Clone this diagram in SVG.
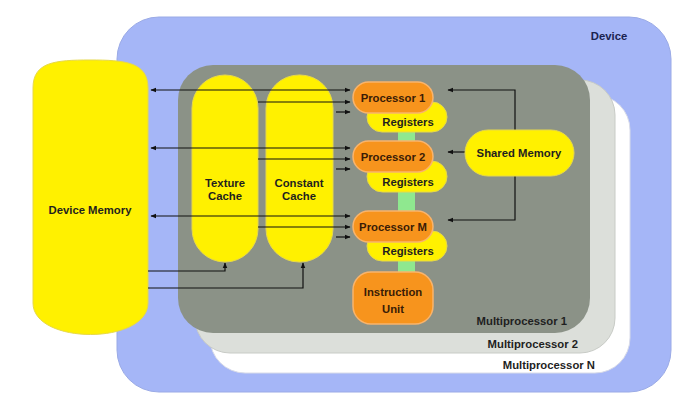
<svg xmlns="http://www.w3.org/2000/svg" width="690" height="416" viewBox="0 0 690 416">
<defs>
<marker id="ah" viewBox="0 0 10 10" refX="9" refY="5" markerWidth="6" markerHeight="6" orient="auto-start-reverse" markerUnits="userSpaceOnUse">
<path d="M0,1 L10,5 L0,9 z" fill="#111"/>
</marker>
<style>
text{font-family:"Liberation Sans",Arial,sans-serif;font-weight:bold;font-size:11.3px;fill:#1f1f1f;text-anchor:middle}
.y{fill:#fff100;stroke:#e6d84a;stroke-width:1}
.o{fill:#f7941d;stroke:#f9b46c;stroke-width:1.5}
.ot{fill:#3a1c06}
.g{fill:#8fe88f}
.c{fill:none;stroke:#111;stroke-width:1.2}
.c2{fill:none;stroke:#111;stroke-width:1.2;marker-end:url(#ah)}
.c3{fill:none;stroke:#111;stroke-width:1.2;marker-start:url(#ah);marker-end:url(#ah)}
.lab{text-anchor:end}
</style>
</defs>
<rect width="690" height="416" fill="#ffffff"/>
<g id="device">
<rect x="117" y="17" width="554" height="375" rx="42" fill="#a5b6f7" stroke="#9aaae6"/>
<text x="609" y="40" fill="#1b2350" style="fill:#1b2350">Device</text>
</g>
<g id="multiprocessorN">
<rect x="210" y="95" width="420" height="278" rx="35" fill="#ffffff" stroke="#d8dbe8"/>
<text class="lab" x="595" y="369">Multiprocessor N</text>
</g>
<g id="multiprocessor2">
<rect x="195" y="80" width="420" height="273" rx="35" fill="#dcdfda" stroke="#c8cbc6"/>
<text class="lab" x="578" y="348">Multiprocessor 2</text>
</g>
<g id="multiprocessor1">
<rect x="178" y="65" width="412" height="268" rx="35" fill="#8b9287"/>
<text class="lab" x="567" y="325">Multiprocessor 1</text>
</g>
<g id="device-memory">
<path class="y" d="M33,88 C33,62 55,60 90,60 C125,60 148,62 148,88 V303 C148,345 33,345 33,303 Z"/>
<text x="90" y="214">Device Memory</text>
</g>
<g id="texture-cache">
<rect class="y" x="192" y="75" width="66" height="187" rx="33"/>
<text x="225" y="187">Texture</text>
<text x="225" y="200">Cache</text>
</g>
<g id="constant-cache">
<rect class="y" x="266" y="75" width="67" height="187" rx="33"/>
<text x="299" y="187">Constant</text>
<text x="299" y="200">Cache</text>
</g>
<g id="green-links">
<rect class="g" x="398" y="131" width="17" height="11"/>
<rect class="g" x="398" y="191" width="17" height="21"/>
<rect class="g" x="398" y="260" width="17" height="13"/>
</g>
<g id="registers-1">
<rect class="y" x="367" y="102" width="80" height="30" rx="15"/>
<text x="408" y="126">Registers</text>
</g>
<g id="processor-1">
<rect class="o" x="353" y="82" width="80" height="31" rx="15.5"/>
<text class="ot" x="393" y="101.5">Processor 1</text>
</g>
<g id="registers-2">
<rect class="y" x="367" y="161" width="80" height="31" rx="15.5"/>
<text x="408" y="186">Registers</text>
</g>
<g id="processor-2">
<rect class="o" x="353" y="141" width="80" height="31" rx="15.5"/>
<text class="ot" x="393" y="160.5">Processor 2</text>
</g>
<g id="registers-m">
<rect class="y" x="367" y="231" width="80" height="30" rx="15"/>
<text x="408" y="255">Registers</text>
</g>
<g id="processor-m">
<rect class="o" x="353" y="211" width="80" height="31" rx="15.5"/>
<text class="ot" x="393" y="230.5">Processor M</text>
</g>
<g id="instruction-unit">
<rect class="o" x="353" y="272" width="80" height="52" rx="18"/>
<text class="ot" x="393" y="296">Instruction</text>
<text class="ot" x="393" y="313">Unit</text>
</g>
<g id="connectors">
<path class="c3" d="M151,90 H350"/>
<path class="c2" d="M258,102 H350"/>
<path class="c2" d="M336,112 H350"/>
<path class="c3" d="M151,148 H350"/>
<path class="c2" d="M258,159 H350"/>
<path class="c2" d="M336,169 H350"/>
<path class="c3" d="M151,216 H350"/>
<path class="c2" d="M258,227 H350"/>
<path class="c2" d="M336,237 H350"/>
<path class="c2" d="M148,271 H225 V263"/>
<path class="c2" d="M148,288 H303 V263"/>
<path class="c3" d="M448,90 H515 V220 H448"/>
<path class="c2" d="M465,152 H448"/>
</g>
<g id="shared-memory">
<rect class="y" x="465" y="130" width="109" height="46" rx="23"/>
<text x="519" y="157">Shared Memory</text>
</g>
</svg>
